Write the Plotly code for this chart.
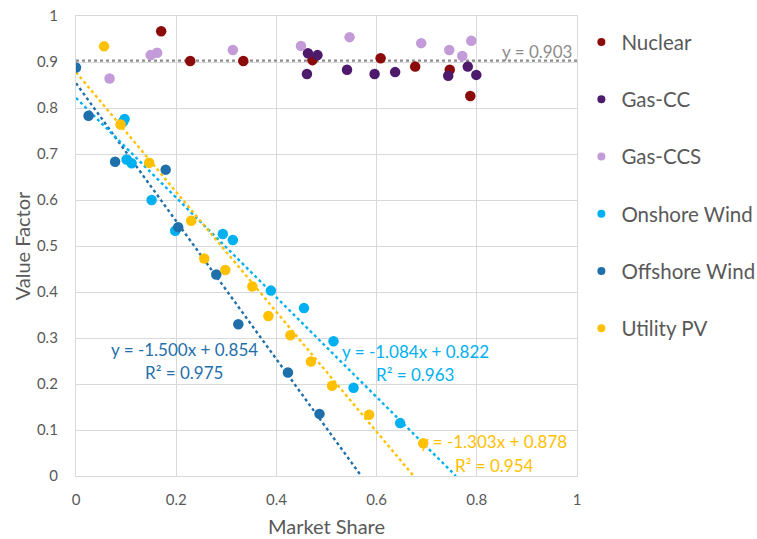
import plotly.graph_objects as go

# ---- data ----
nuclear_x = [0.170, 0.228, 0.334, 0.472, 0.608, 0.677, 0.746, 0.787]
nuclear_y = [0.967, 0.902, 0.902, 0.904, 0.908, 0.890, 0.883, 0.826]

gascc_x = [0.463, 0.482, 0.461, 0.541, 0.596, 0.637, 0.743, 0.782, 0.799]
gascc_y = [0.919, 0.915, 0.874, 0.883, 0.874, 0.878, 0.870, 0.890, 0.872]

gasccs_x = [0.067, 0.149, 0.162, 0.313, 0.449, 0.546, 0.689, 0.745, 0.771, 0.789]
gasccs_y = [0.864, 0.915, 0.920, 0.926, 0.935, 0.954, 0.941, 0.926, 0.913, 0.946]

onshore_x = [0.094, 0.097, 0.101, 0.111, 0.151, 0.198, 0.293, 0.313, 0.389, 0.455, 0.514, 0.554, 0.647]
onshore_y = [0.770, 0.776, 0.688, 0.680, 0.600, 0.533, 0.526, 0.513, 0.403, 0.365, 0.293, 0.192, 0.115]

offshore_x = [0.000, 0.025, 0.078, 0.179, 0.204, 0.280, 0.324, 0.423, 0.486]
offshore_y = [0.888, 0.783, 0.683, 0.666, 0.541, 0.438, 0.330, 0.225, 0.135]

pv_x = [0.056, 0.089, 0.146, 0.230, 0.256, 0.298, 0.352, 0.384, 0.428, 0.469, 0.511, 0.585, 0.693]
pv_y = [0.934, 0.764, 0.681, 0.555, 0.473, 0.448, 0.412, 0.348, 0.306, 0.249, 0.196, 0.133, 0.071]

series_names = ["Nuclear", "Gas-CC", "Gas-CCS", "Onshore Wind", "Offshore Wind", "Utility PV"]
series_colors = ["#8B0A0A", "#4E1A6B", "#C39BD8", "#00B0F0", "#1F6FAA", "#FFC000"]

# trendlines (from chart labels)
trend_series = ["Offshore Wind", "Onshore Wind", "Utility PV"]
trend_slope = [-1.500, -1.084, -1.303]
trend_intercept = [0.854, 0.822, 0.878]
trend_r2 = [0.975, 0.963, 0.954]
mean_level = 0.903

xticks = [0, 0.2, 0.4, 0.6, 0.8, 1]
yticks = [0, 0.1, 0.2, 0.3, 0.4, 0.5, 0.6, 0.7, 0.8, 0.9, 1]

FONT = "Lato"
TXT = "#595959"

xs = [nuclear_x, gascc_x, gasccs_x, onshore_x, offshore_x, pv_x]
ys = [nuclear_y, gascc_y, gasccs_y, onshore_y, offshore_y, pv_y]
cmap = dict(zip(series_names, series_colors))

fig = go.Figure()

# horizontal mean line
fig.add_trace(go.Scatter(x=[0, 1], y=[mean_level, mean_level], mode="lines",
                         line=dict(color="#8C8C8C", width=2.2, dash="dot"),
                         showlegend=False, hoverinfo="skip"))

# trendlines
for name, m, b in zip(trend_series, trend_slope, trend_intercept):
    x_end = -b / m
    fig.add_trace(go.Scatter(x=[0, x_end], y=[b, 0], mode="lines",
                             line=dict(color=cmap[name], width=2.4, dash="dot"),
                             showlegend=False, hoverinfo="skip"))

# scatter points
for name, col, x, y in zip(series_names, series_colors, xs, ys):
    fig.add_trace(go.Scatter(x=x, y=y, mode="markers", name=name,
                             marker=dict(color=col, size=10.5),
                             showlegend=False))

# legend entries
for i, (name, col) in enumerate(zip(series_names, series_colors)):
    fig.add_trace(go.Scatter(x=[None], y=[None], mode="markers", name=name,
                             marker=dict(color=col, size=8),
                             legendgroup=f"g{i}", showlegend=True))

# trendline labels
label_pos = {
    "Offshore Wind": (0.2156, 0.274, 0.2246),
    "Onshore Wind": (0.677, 0.270, 0.2196),
    "Utility PV": (0.834, 0.0746, 0.0239),
}
for name, m, b, r2 in zip(trend_series, trend_slope, trend_intercept, trend_r2):
    cx, y1, y2 = label_pos[name]
    sign = "+" if b >= 0 else "-"
    fig.add_annotation(x=cx, y=y1, text=f"y = {m:.3f}x {sign} {abs(b):.3f}",
                       showarrow=False, xanchor="center", yanchor="middle",
                       font=dict(family=FONT, size=17, color=cmap[name]))
    fig.add_annotation(x=cx, y=y2, text=f"R² = {r2:.3f}",
                       showarrow=False, xanchor="center", yanchor="middle",
                       font=dict(family=FONT, size=17, color=cmap[name]))

fig.add_annotation(x=0.9196, y=0.9224, text=f"y = {mean_level:.3f}", showarrow=False,
                   xanchor="center", yanchor="middle",
                   font=dict(family=FONT, size=17, color="#8C8C8C"))

axis_common = dict(showgrid=True, gridcolor="#D9D9D9", gridwidth=1.3,
                   showline=True, linecolor="#D9D9D9", linewidth=1.3, mirror=True,
                   zeroline=False, ticks="", automargin=False,
                   tickfont=dict(family=FONT, size=15, color=TXT))

fig.update_xaxes(range=[0, 1], tickvals=xticks, ticktext=[f"{v:g}" for v in xticks],
                 title=dict(text="Market Share", font=dict(family=FONT, size=20, color=TXT), standoff=12),
                 ticklabelstandoff=10, **axis_common)
fig.update_yaxes(range=[0, 1], tickvals=yticks, ticktext=[f"{v:g}" for v in yticks],
                 title=dict(text="Value Factor", font=dict(family=FONT, size=20, color=TXT), standoff=0),
                 ticklabelstandoff=14, **axis_common)

fig.update_layout(
    width=757, height=539,
    margin=dict(l=76, r=180, t=16, b=63),
    paper_bgcolor="white", plot_bgcolor="white",
    font=dict(family=FONT, color=TXT),
    legend=dict(xref="container", yref="container", x=0.768, y=0.959,
                xanchor="left", yanchor="top", maxheight=480,
                font=dict(family=FONT, size=20.5, color=TXT),
                tracegroupgap=27.6, traceorder="grouped", bgcolor="rgba(0,0,0,0)"),
)

fig.write_html("out.html", config={"displayModeBar": False},
               post_script="document.body.style.margin='0';")
